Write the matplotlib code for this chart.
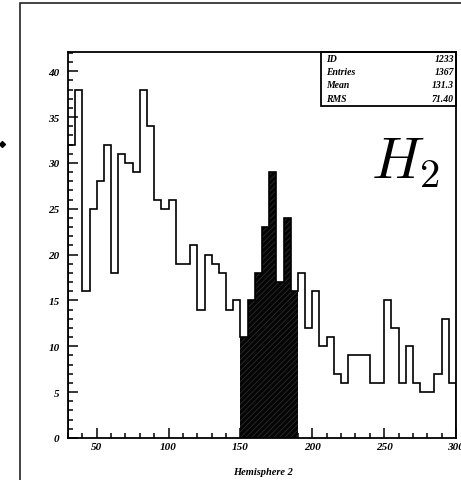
import numpy as np
import matplotlib
matplotlib.use("Agg")
import matplotlib.pyplot as plt
from matplotlib.patches import Rectangle
from matplotlib.lines import Line2D
from matplotlib.ticker import MultipleLocator

# ---- data ----
bin_start = 30
bin_width = 5
counts = [32, 38, 16, 25, 28, 32, 18, 31, 30, 29,
          38, 34, 26, 25, 26, 19, 19, 21, 14, 20,
          19, 18, 14, 15, 11, 15, 18, 23, 29, 17,
          24, 16, 18, 12, 16, 10, 11, 7, 6, 9,
          9, 9, 6, 6, 15, 12, 6, 10, 6, 5,
          5, 7, 13, 6]
fill_lo, fill_hi = 150, 190
stat_labels = ["ID", "Entries", "Mean", "RMS"]
stat_values = ["1233", "1367", "131.3", "71.40"]
x_label = "Hemisphere 2"
x_ticks = [50, 100, 150, 200, 250, 300]
y_ticks = [0, 5, 10, 15, 20, 25, 30, 35, 40]

counts = np.array(counts, dtype=float)
edges = bin_start + bin_width * np.arange(len(counts) + 1)

plt.rcParams['hatch.color'] = '#3c3c3c'
plt.rcParams['hatch.linewidth'] = 0.4

W, H = 461, 481
fig = plt.figure(figsize=(W / 100, H / 100), dpi=100)
ax = fig.add_axes([68 / W, 1 - 439 / H, (456 - 68) / W, (439 - 53) / H])

# filled part
m = (edges[:-1] >= fill_lo) & (edges[1:] <= fill_hi)
idx = np.where(m)[0]
ax.stairs(counts[idx], edges[idx[0]:idx[-1] + 2], fill=True,
          facecolor='#050505', edgecolor='#3c3c3c', hatch='//////',
          linewidth=0, zorder=2)
# outline
ax.stairs(counts, edges, baseline=0, color='black', linewidth=1.2, zorder=3)

ax.set_xlim(30, 300)
ax.set_ylim(0, 42.1)
ax.set_xticks(x_ticks)
ax.set_yticks(y_ticks)
ax.xaxis.set_minor_locator(MultipleLocator(10))
ax.yaxis.set_minor_locator(MultipleLocator(1))
ax.tick_params(which='both', direction='in', top=False, right=False, width=1.1, color='black')
ax.tick_params(which='major', length=7)
ax.tick_params(which='minor', length=3.5)
ax.tick_params(axis='y', pad=6)
ax.tick_params(axis='x', pad=3)
for lab in ax.get_xticklabels() + ax.get_yticklabels():
    lab.set_fontfamily('Liberation Serif')
    lab.set_fontweight('bold')
    lab.set_fontstyle('italic')
    lab.set_fontsize(8)
for s in ax.spines.values():
    s.set_linewidth(1.3)

fig.text(263 / W, 1 - 473 / H, x_label, ha='center', va='center',
         family='Liberation Serif', weight='bold', style='italic', size=7.5)

# stats box
bx0, bx1, by0, by1 = 321, 456, 53, 107
fig.add_artist(Rectangle((bx0 / W, 1 - by1 / H), (bx1 - bx0) / W, (by1 - by0) / H,
                         transform=fig.transFigure, fill=False, edgecolor='black',
                         linewidth=1.3, zorder=5))
line_y = [59.5, 73, 86, 99.5]
for lab, val, yy in zip(stat_labels, stat_values, line_y):
    fig.text(326 / W, 1 - yy / H, lab, ha='left', va='center',
             family='Liberation Serif', weight='bold', style='italic', size=7)
    fig.text(454 / W, 1 - yy / H, val, ha='right', va='center',
             family='Liberation Serif', weight='bold', style='italic', size=7)

# H_2 label
plt.rcParams['mathtext.fontset'] = 'cm'
fig.text(371 / W, 1 - 178 / H, r'$H_2$', ha='left', va='baseline', size=42)

# outer frame
fig.add_artist(Rectangle((20 / W, -0.1), 1.2, 1.1 - 4 / H, transform=fig.transFigure,
                         fill=False, edgecolor='#222222', linewidth=1.2, clip_on=False))
# small marker at left edge
fig.add_artist(Line2D([1.5 / W], [1 - 145 / H], marker='D', markersize=3,
                      color='black', transform=fig.transFigure))

fig.savefig('out.png', dpi=100)
